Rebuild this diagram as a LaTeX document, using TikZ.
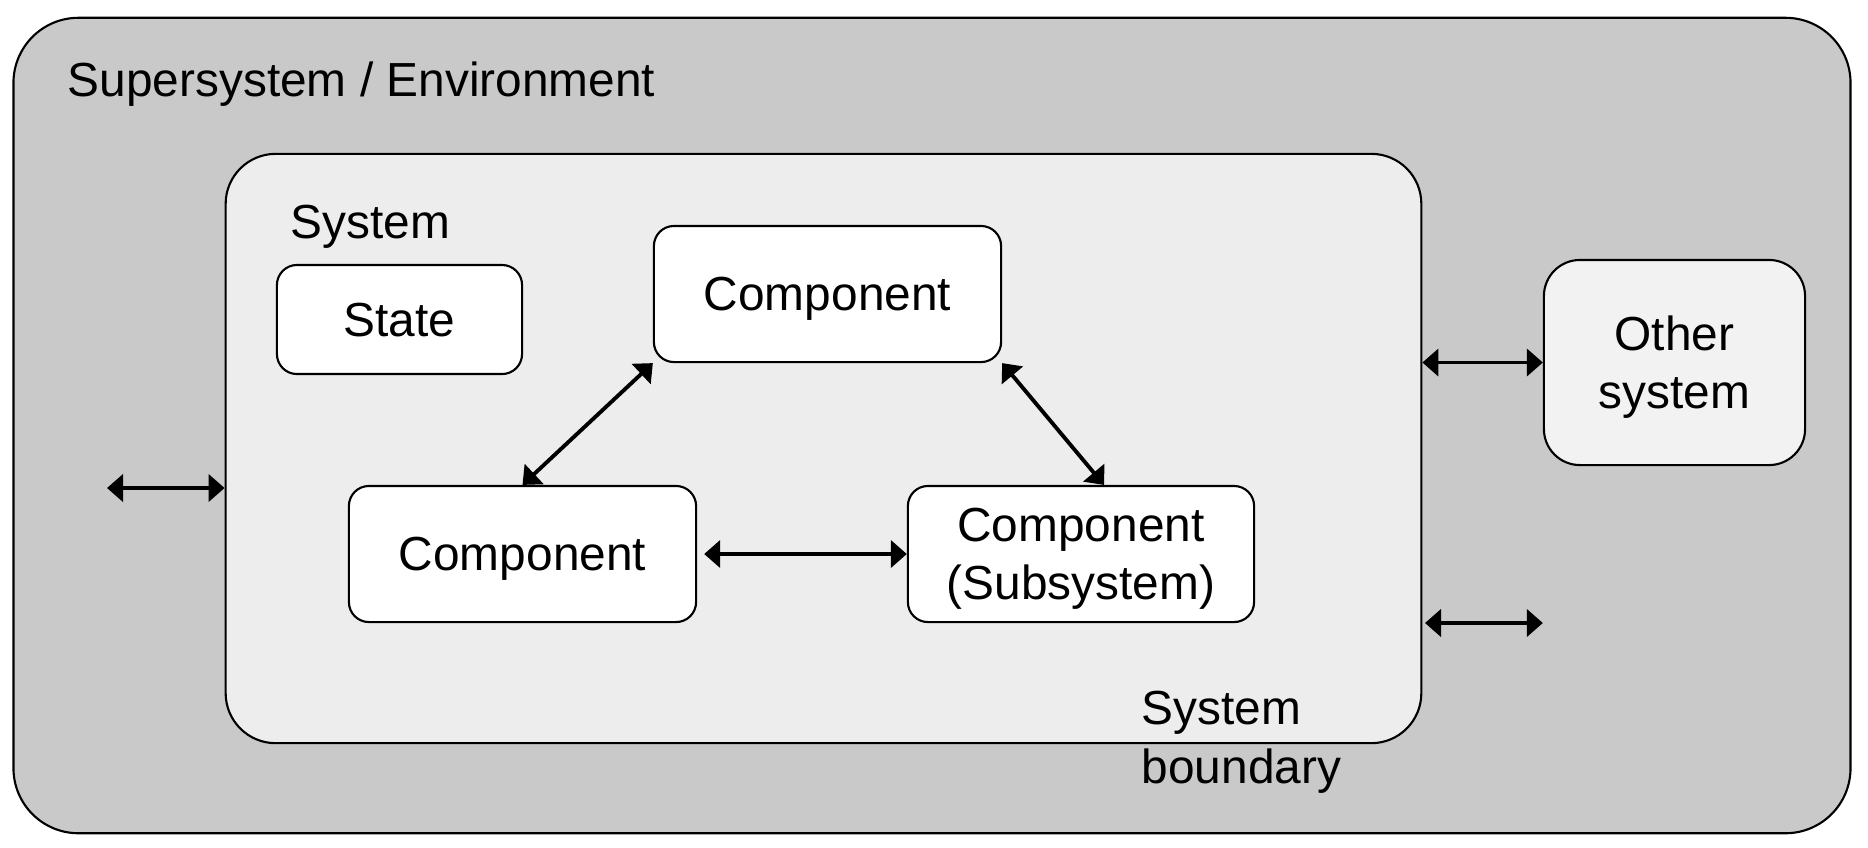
\documentclass[tikz,border=0pt]{standalone}
\usepackage{fontspec}
\setmainfont{Liberation Sans}
\usetikzlibrary{positioning, calc, arrows.meta}
\definecolor{envgray}{RGB}{201,201,201}
\definecolor{sysgray}{RGB}{237,237,237}
\definecolor{othergray}{RGB}{242,242,242}

\begin{document}
\begin{tikzpicture}[x=0.01cm,y=-0.01cm,font=\fontsize{13.6}{16.5}\selectfont,
  box/.style={draw,rounded corners=0.2cm,fill=white,line width=0.6pt,align=center,inner sep=0pt,text depth=0pt},
  lbl/.style={anchor=base west,inner sep=0pt},
  arr/.style={{Triangle[length=0.16cm,width=0.27cm]}-{Triangle[length=0.16cm,width=0.27cm]},line width=1.1pt}]
\useasboundingbox (0,0) rectangle (1868,847);
% environment and system
\node[box,fill=envgray,rounded corners=0.65cm,minimum width=18.36cm,minimum height=8.15cm](env) at (932,425.5){};
\node[box,fill=sysgray,rounded corners=0.5cm,minimum width=11.95cm,minimum height=5.89cm](sys) at (823.5,448.5){};
\node[box,fill=othergray,rounded corners=0.36cm,minimum width=2.61cm,minimum height=2.05cm](other) at (1674.5,362.5){Other\\system};
\node[lbl](envlabel) at (67,96){Supersystem / Environment};
\node[lbl](syslabel) at (290,238){System};
\node[lbl,align=left](bndlabel) at (1141,783){System\\boundary};
% inner boxes
\node[box,minimum width=2.45cm,minimum height=1.09cm](state) at (399.5,319.5){State};
\node[box,minimum width=3.47cm,minimum height=1.36cm](comp1) at (827.5,294){Component};
\node[box,minimum width=3.47cm,minimum height=1.36cm](comp2) at (522.5,554){Component};
\node[box,minimum width=3.46cm,minimum height=1.36cm](comp3) at (1081,554){Component\\(Subsystem)};
% interactions
\coordinate (l1) at (107,488);
\coordinate (r1) at (1425,623);
\draw[arr] (l1) -- (l1 -| sys.west);
\draw[arr] (other.west -| sys.east) -- (other.west);
\draw[arr] (r1) -- (r1 -| other.west);
\draw[arr] (comp2.north) -- (comp1.south west);
\draw[arr] (comp1.south east) -- ([xshift=0.23cm]comp3.north);
\draw[arr] ([xshift=0.07cm]comp2.east) -- (comp3.west);
\end{tikzpicture}
\end{document}
